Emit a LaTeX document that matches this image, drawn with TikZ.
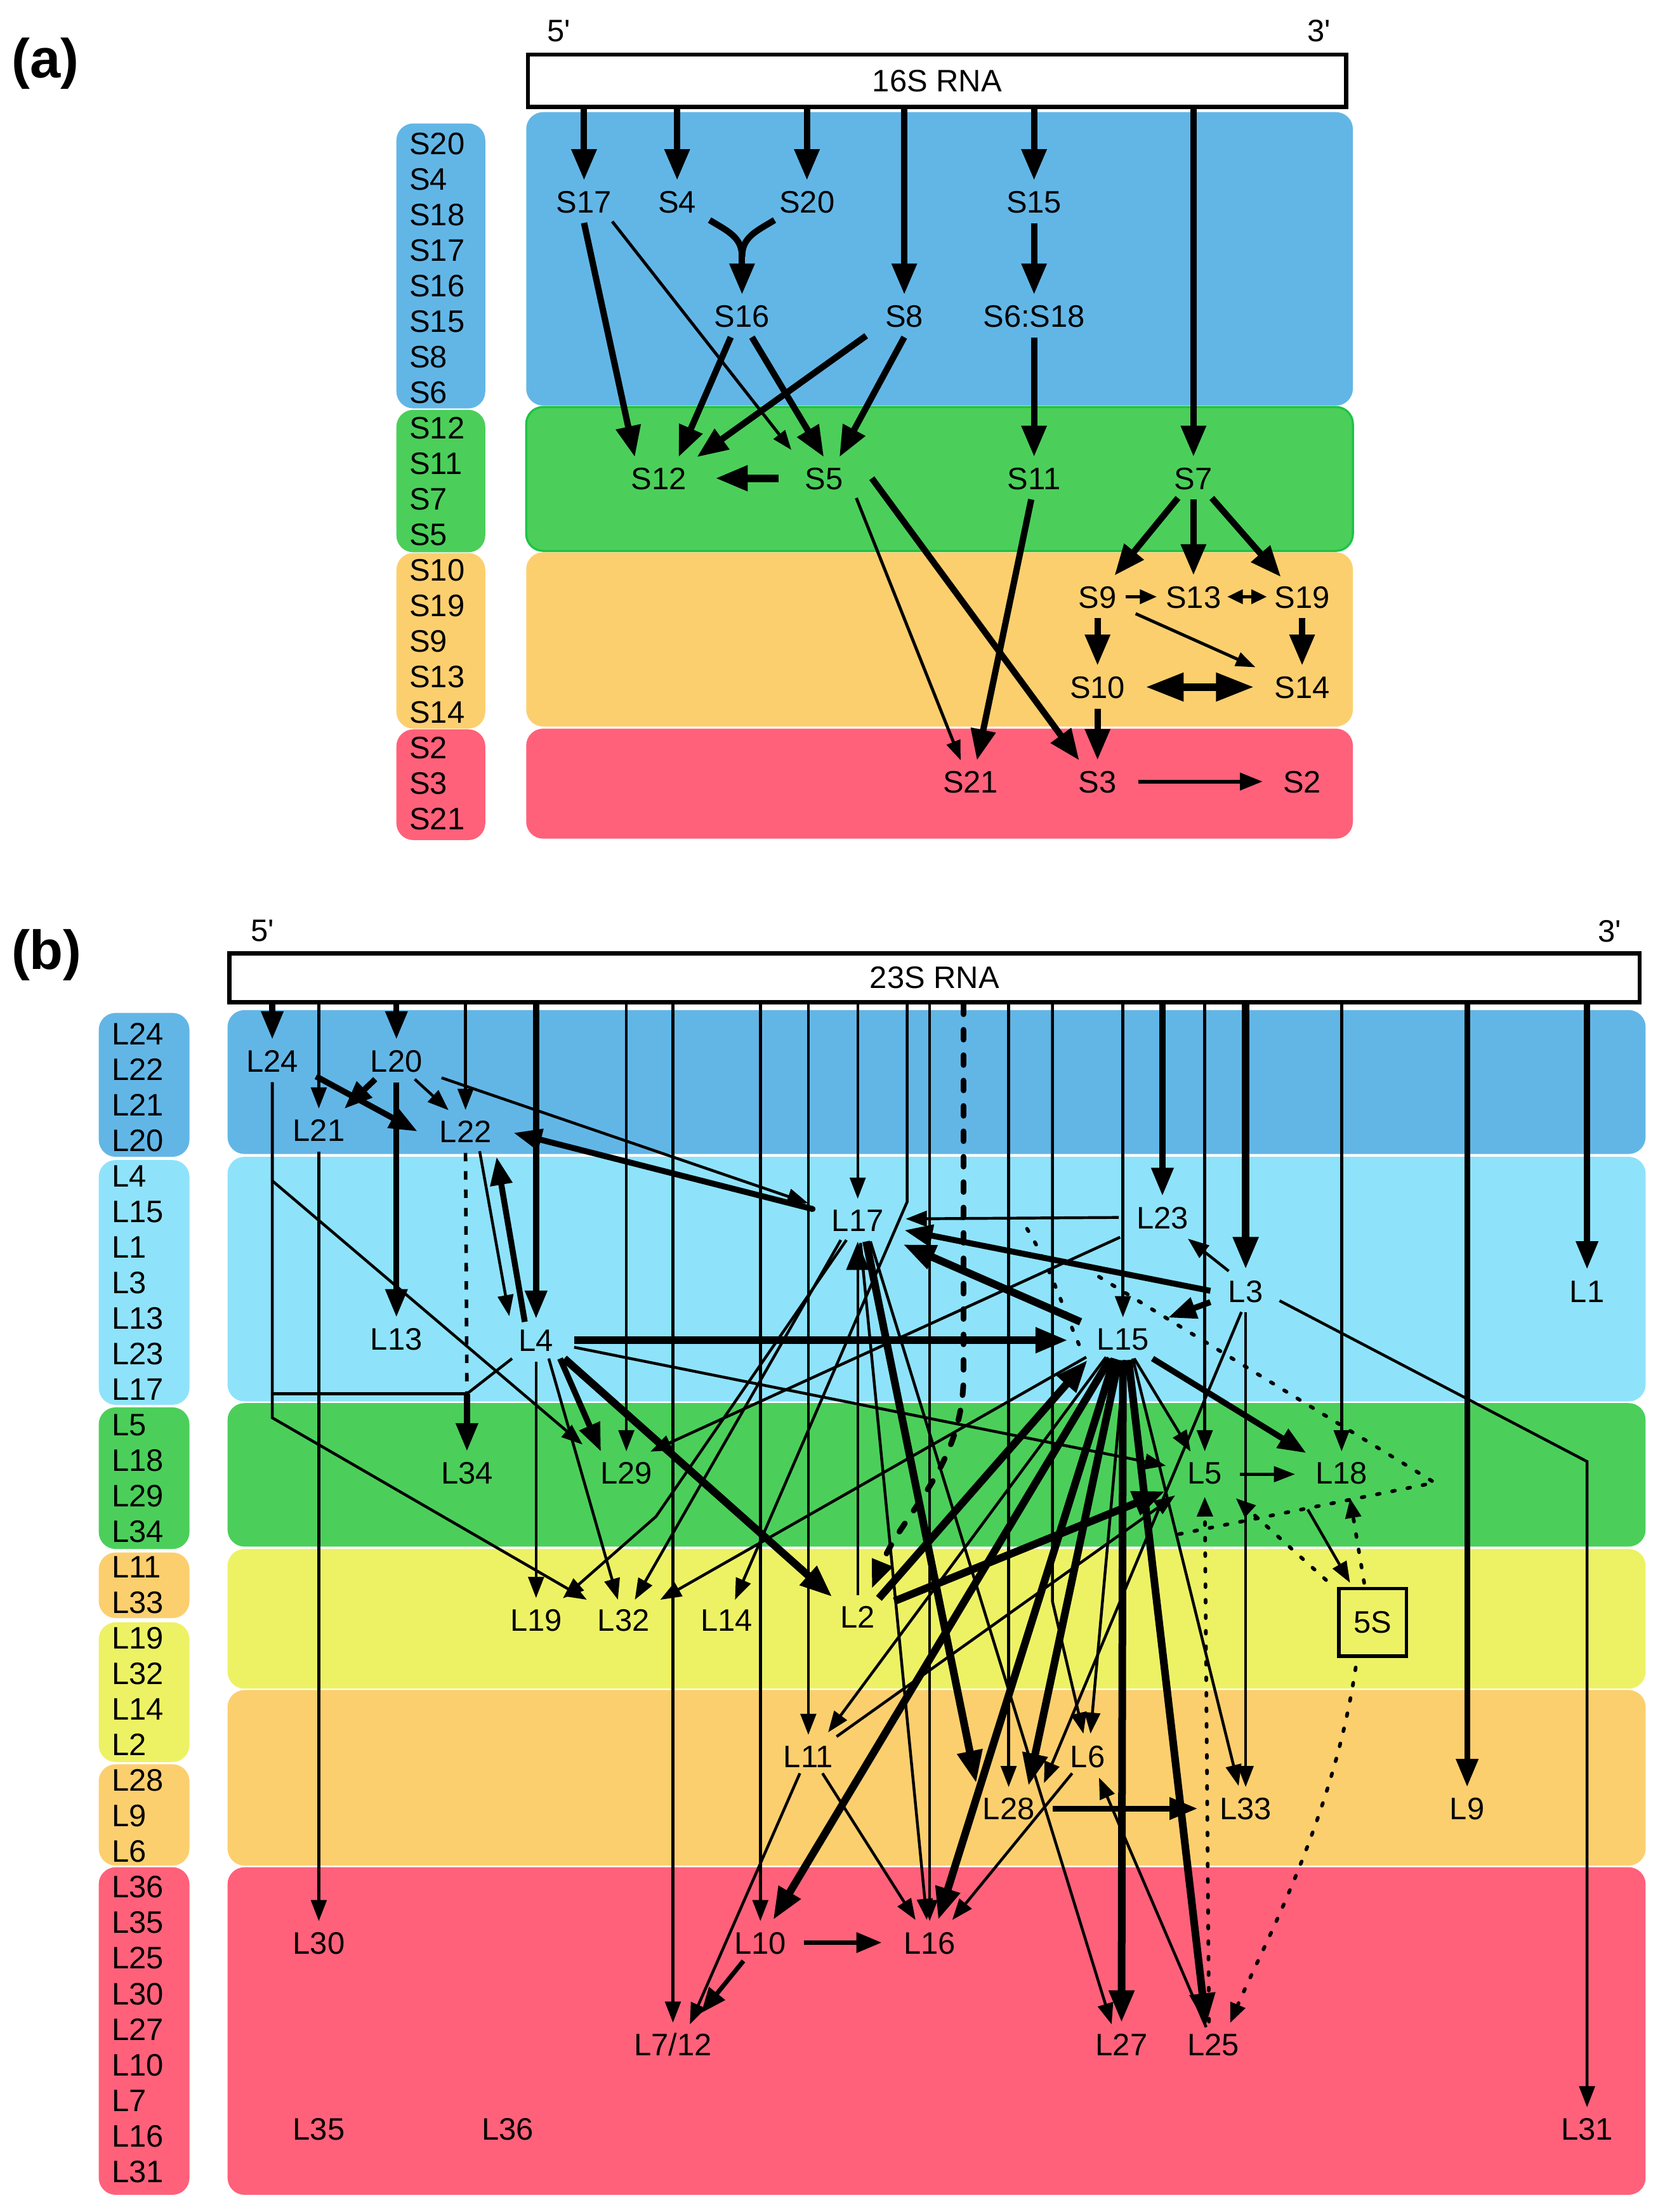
\documentclass[tikz,border=0pt]{standalone}
\usepackage{fontspec}
\setmainfont{Liberation Sans}
\usetikzlibrary{arrows.meta,calc}
\definecolor{cBlue}{RGB}{98,182,230}
\definecolor{cLBlue}{RGB}{142,227,250}
\definecolor{cGreen}{RGB}{75,207,90}
\definecolor{cGreenB}{RGB}{30,195,70}
\definecolor{cOrange}{RGB}{252,207,110}
\definecolor{cYellow}{RGB}{237,242,100}
\definecolor{cRed}{RGB}{255,97,122}
\newcommand\fsz{\fontsize{22}{24}\selectfont}
\newcommand\cnx[5]{\draw[#1] ($(#2)+(#3)$) -- ($(#4)+(#5)$);}
\begin{document}
\begin{tikzpicture}[x=1pt,y=-1pt,
  lab/.style={font=\fsz, inner sep=7pt, text height=16pt, text depth=0pt},
  leg/.style={font=\fsz, inner sep=0pt, anchor=west, text height=16pt, text depth=0pt},
  band/.style={rounded corners=12pt},
  tA/.style={line width=2.2pt, -{Triangle[length=14pt,width=10pt]}},
  kA/.style={line width=4.5pt, -{Triangle[length=22pt,width=17pt]}},
  tB/.style={line width=2pt, -{Triangle[length=15pt,width=11pt]}},
  kB/.style={line width=4.2pt, -{Triangle[length=20pt,width=15pt]}},
  hB/.style={line width=5.4pt, -{Triangle[length=23pt,width=17pt]}},
  mB/.style={line width=3.2pt, -{Triangle[length=18pt,width=14pt]}},
  plain/.style={line width=2pt},
  dotB/.style={line width=2.6pt, line cap=round, dash pattern=on 2pt off 9pt},
  dotA/.style={dotB, -{Triangle[length=14pt,width=11pt]}},
  dashK/.style={line width=4pt, line cap=round, dash pattern=on 7pt off 11pt, -{Triangle[length=20pt,width=15pt]}},
  dashT/.style={line width=2.5pt, dash pattern=on 6pt off 7pt},
]
\useasboundingbox (0,0) rectangle (1185,1568);
\fill[white] (0,0) rectangle (1185,1568);

% ================= (a) =================
\node[font=\fontsize{39}{42}\selectfont\bfseries] (tagA) at (32,45) {(a)};
\fill[cBlue,band] (373,79.5) rectangle (959,287.5);
\filldraw[fill=cGreen,draw=cGreenB,line width=1.5pt,band] (373,288.5) rectangle (959,390.5);
\fill[cOrange,band] (373,391.5) rectangle (959,515);
\fill[cRed,band] (373,516.5) rectangle (959,594.5);
\fill[cBlue,band] (281,87.5) rectangle (344,289.5);
\fill[cGreen,band] (281,290.5) rectangle (344,391.5);
\fill[cOrange,band] (281,392) rectangle (344,516.5);
\fill[cRed,band] (281,517) rectangle (344,595.5);
\foreach \t [count=\i from 0] in {S20,S4,S18,S17,S16,S15,S8,S6,S12,S11,S7,S5,S10,S19,S9,S13,S14,S2,S3,S21}
  \node[leg] (la\i) at (290,101.4+25.2*\i) {\t};

\node[draw, line width=3pt, fill=white, minimum width=580pt, minimum height=37pt, inner sep=0pt, font=\fsz] (rnaA) at (664.3,57.2) {16S RNA};
\node[font=\fsz, inner sep=0pt] (p5a) at (396,22) {5\textquotesingle};
\node[font=\fsz, inner sep=0pt] (p3a) at (935,22) {3\textquotesingle};

\node[lab] (S17) at (414,143) {S17};
\node[lab] (S4) at (480,143) {S4};
\node[lab] (S20) at (572,143) {S20};
\node[lab] (S15) at (733,143) {S15};
\node[lab] (S16) at (526,224) {S16};
\node[lab] (S8) at (641,224) {S8};
\node[lab] (S618) at (733,224) {S6:S18};
\node[lab] (S12) at (467,339) {S12};
\node[lab] (S5) at (584,339) {S5};
\node[lab] (S11) at (733,339) {S11};
\node[lab] (S7) at (846,339) {S7};
\node[lab] (S9) at (778,423) {S9};
\node[lab] (S13) at (846,423) {S13};
\node[lab] (S19) at (923,423) {S19};
\node[lab] (S10) at (778,487) {S10};
\node[lab] (S14) at (923,487) {S14};
\node[lab] (S21) at (688,554) {S21};
\node[lab] (S3) at (778,554) {S3};
\node[lab] (S2) at (923,554) {S2};

\foreach \n in {S17,S4,S20,S15,S8,S7} \draw[kA] (rnaA.south -| \n) -- (\n.north);
\cnx{kA}{S17}{0,15}{S12}{-17,-15}
\cnx{tA}{S17}{20,14}{S5}{-23,-20}
\coordinate (ym) at (526,182);
\draw[line width=4.5pt] ($(S4)+(23,13)$) .. controls (516,164) and (526,168) .. (ym);
\draw[line width=4.5pt] ($(S20)+(-23,13)$) .. controls (536,164) and (526,168) .. (ym);
\draw[kA] ($(ym)+(0,-4)$) -- (S16.north);
\cnx{kA}{S16}{-8,15}{S12}{14,-15}
\cnx{kA}{S16}{7,15}{S5}{0,-15}
\cnx{kA}{S8}{-27,14}{S12}{27,-15}
\cnx{kA}{S8}{0,15}{S5}{11,-15}
\draw[kA] (S15.south) -- (S618.north);
\draw[kA] (S618.south) -- (S11.north);
\draw[line width=5.3pt, -{Triangle[length=23pt,width=17pt]}] ($(S5)+(-32,0)$) -- ($(S12)+(40,0)$);
\cnx{tA}{S5}{23,14}{S21}{-7,-15}
\cnx{kA}{S5}{34,0}{S3}{-13,-15}
\cnx{kA}{S11}{-2,15}{S21}{4.5,-15}
\cnx{kA}{S7}{-11,14}{S9}{12,-15}
\draw[kA] (S7.south) -- (S13.north);
\cnx{kA}{S7}{13,14}{S19}{-15,-14}
\draw[line width=2.2pt, -{Triangle[length=12pt,width=10pt]}] ($(S9)+(20,0)$) -- ($(S13)+(-26,0)$);
\draw[line width=2.2pt, {Triangle[length=11pt,width=10pt]}-{Triangle[length=11pt,width=10pt]}] ($(S13)+(24,0)$) -- ($(S19)+(-25,0)$);
\cnx{tA}{S9}{27,12}{S14}{-33,-14}
\draw[kA] (S9.south) -- (S10.north);
\draw[kA] (S19.south) -- (S14.north);
\draw[line width=5.5pt, {Triangle[length=27pt,width=19pt]}-{Triangle[length=27pt,width=19pt]}] ($(S10)+(34,0)$) -- ($(S14)+(-34,0)$);
\draw[kA] (S10.south) -- (S3.north);
\draw[line width=2.6pt, -{Triangle[length=16pt,width=12pt]}] ($(S3)+(29,0)$) -- ($(S2)+(-28,0)$);

% ================= (b) =================
\node[font=\fontsize{39}{42}\selectfont\bfseries] (tagB) at (33,677) {(b)};
\fill[cBlue,band] (161.3,716) rectangle (1166.5,818);
\fill[cLBlue,band] (161.3,820) rectangle (1166.5,993.4);
\fill[cGreen,band] (161.3,994.6) rectangle (1166.5,1096.3);
\fill[cYellow,band] (161.3,1098) rectangle (1166.5,1197);
\fill[cOrange,band] (161.3,1198) rectangle (1166.5,1322.4);
\fill[cRed,band] (161.3,1323.6) rectangle (1166.5,1555.8);
\fill[cBlue,band] (70,718) rectangle (134.3,820);
\fill[cLBlue,band] (70,822.3) rectangle (134.3,995.8);
\fill[cGreen,band] (70,997.6) rectangle (134.3,1098);
\fill[cOrange,band] (70,1100.5) rectangle (134.3,1147);
\fill[cYellow,band] (70,1150) rectangle (134.3,1249);
\fill[cOrange,band] (70,1250.6) rectangle (134.3,1322.4);
\fill[cRed,band] (70,1323.6) rectangle (134.3,1555.8);
\foreach \t [count=\i from 0] in {L24,L22,L21,L20,L4,L15,L1,L3,L13,L23,L17,L5,L18,L29,L34,L11,L33,L19,L32,L14,L2,L28,L9,L6,L36,L35,L25,L30,L27,L10,L7,L16,L31}
  \node[leg] (lb\i) at (79,732.5+25.2*\i) {\t};

\node[draw, line width=3pt, fill=white, minimum width=999.5pt, minimum height=34.5pt, inner sep=0pt, font=\fsz] (rnaB) at (662.5,693.2) {23S RNA};
\node[font=\fsz, inner sep=0pt] (p5b) at (186,660) {5\textquotesingle};
\node[font=\fsz, inner sep=0pt] (p3b) at (1141,660) {3\textquotesingle};

\node[lab] (L24) at (193,752) {L24};
\node[lab] (L20) at (281,752) {L20};
\node[lab] (L21) at (226,801) {L21};
\node[lab] (L22) at (330,802) {L22};
\node[lab] (L13) at (281,949) {L13};
\node[lab] (L4) at (380,950) {L4};
\node[lab] (L17) at (608,865) {L17};
\node[lab] (L23) at (824,863) {L23};
\node[lab] (L3) at (883,915) {L3};
\node[lab] (L15) at (796,949) {L15};
\node[lab] (L1) at (1125,915) {L1};
\node[lab] (L34) at (331,1044) {L34};
\node[lab] (L29) at (444,1044) {L29};
\node[lab] (L5) at (854,1044) {L5};
\node[lab] (L18) at (951,1044) {L18};
\node[lab] (L19) at (380,1148) {L19};
\node[lab] (L32) at (442,1148) {L32};
\node[lab] (L14) at (515,1148) {L14};
\node[lab] (L2) at (608,1146) {L2};
\node[draw, line width=2.5pt, minimum width=48pt, minimum height=48pt, inner sep=0pt, font=\fsz] (S5S) at (973,1150) {5S};
\node[lab] (L11) at (573,1245) {L11};
\node[lab] (L6) at (771,1245) {L6};
\node[lab] (L28) at (715,1282) {L28};
\node[lab] (L33) at (883,1282) {L33};
\node[lab] (L9) at (1040,1282) {L9};
\node[lab] (L30) at (226,1377) {L30};
\node[lab] (L10) at (539,1377) {L10};
\node[lab] (L16) at (659,1377) {L16};
\node[lab] (L712) at (477,1449) {L7/12};
\node[lab] (L27) at (795,1449) {L27};
\node[lab] (L25) at (860,1449) {L25};
\node[lab] (L35) at (226,1509) {L35};
\node[lab] (L36) at (360,1509) {L36};
\node[lab] (L31) at (1125,1509) {L31};

% from 23S RNA
\foreach \n in {L24,L20,L4,L23,L9,L1} \draw[kB] (rnaB.south -| \n) -- (\n.north);
\draw[hB] (rnaB.south -| L3) -- (L3.north);
\foreach \n in {L21,L22,L29,L712,L10,L11,L17,L16,L28,L15,L5,L18} \draw[tB] (rnaB.south -| \n) -- (\n.north);
\coordinate (k14) at (643,852);
\draw[tB] (rnaB.south -| k14) -- (k14) -- ($(L14)+(6,-14)$);
\coordinate (k6) at (746,1135);
\draw[tB] (rnaB.south -| k6) -- (k6) -- ($(L6)+(-3,-16)$);
\coordinate (k2) at (683,975);
\draw[dashK] (rnaB.south -| k2) -- (k2) .. controls (683,1040) and (640,1072) .. ($(L2)+(10,-20)$);

% upper part
\cnx{kB}{L24}{31,11}{L22}{-34,0}
\cnx{kB}{L20}{-15,13}{L21}{18,-15}
\cnx{tB}{L20}{13,13}{L22}{-12,-15}
\draw[kB] (L20.south) -- (L13.north);
\cnx{tB}{L20}{32,12}{L17}{-35,-12}
\draw[kB, line cap=round] ($(L17)+(-32,-8)$) -- ($(L22)+(34,1)$);
\draw[tB] (L21.south) -- (L30.north);
\coordinate (k29) at (193,837);
\draw[tB] (L24.south) -- (k29) -- ($(L29)+(-31,-20)$);
\coordinate (k32) at (193,1005);
\draw[tB] (L24.south) -- (k32) -- ($(L32)+(-26,-14)$);
\coordinate (k34) at (193,988);
\coordinate (j34) at (331,988);
\draw[plain] (k34) -- (j34);
\draw[dashT] (L22.south) -- (j34);
\draw[plain] ($(L4)+(-17,13)$) -- (j34);
\draw[kB] (j34) -- (L34.north);
\cnx{tB}{L22}{10,14}{L4}{-19,-17}
\cnx{kB}{L4}{-8,-13}{L22}{22,18}
\cnx{hB}{L4}{27,0}{L15}{-39,1}
\cnx{tB}{L4}{27,5}{L5}{-27.5,-5}
\draw[tB] (L4.south) -- (L19.north);
\cnx{tB}{L4}{9,13}{L32}{-4,-14}
\cnx{kB}{L4}{17,13}{L29}{-18,-15}
\cnx{hB}{L4}{20,13}{L2}{-18,-14}
\cnx{tB}{L23}{-31,0}{L17}{34,-1}
\cnx{kB}{L3}{-25,0}{L17}{33,7}
\cnx{hB}{L15}{-30,-12}{L17}{32,17}
\cnx{kB}{L3}{-25,8}{L15}{32,-15}
\cnx{tB}{L3}{-12,-14}{L23}{18,15}
\coordinate (k31) at (1125,1036);
\draw[tB] ($(L3)+(24,7)$) -- (k31) -- (L31.north);
\draw[tB] (L3.south) -- (L33.north);
\cnx{tB}{L3}{-3,15}{L28}{25,-18}
\cnx{tB}{L23}{-30,14}{L29}{17,-15}
\coordinate (k19) at (465,1075);
\draw[tB] ($(L17)+(-8,14)$) -- (k19) -- ($(L19)+(19,-15)$);
\cnx{tB}{L17}{-12,14}{L32}{8,-14}
\cnx{hB}{L17}{6,15}{L28}{-23,-18}
\draw[line width=2pt, -{Triangle[length=20pt,width=16pt]}] (L2.north) -- (L17.south);
\cnx{tB}{L17}{2,16}{L16}{-2,-16}
\cnx{tB}{L17}{9,15}{L27}{-7,-14}
\cnx{hB}{L2}{15,-13}{L15}{-25,15}
\cnx{hB}{L2}{26,-11}{L5}{-28,13}
\cnx{tB}{L11}{20,-14}{L5}{-21,16}
% L15 fan
\cnx{tB}{L15}{-12,13}{L11}{14,-17}
\cnx{tB}{L15}{-26,13}{L32}{26,-14}
\cnx{hB}{L15}{-9,14}{L10}{9,-16}
\cnx{hB}{L15}{-6,14}{L16}{6,-16}
\cnx{hB}{L15}{-3,15}{L28}{14,-16}
\cnx{tB}{L15}{1,15}{L6}{2,-16}
\draw[hB] (L15.south) -- (L27.north);
\cnx{hB}{L15}{4,15}{L25}{-5,-13}
\cnx{tB}{L15}{7,14}{L33}{-5,-16}
\cnx{tB}{L15}{8,14}{L5}{-10,-15}
\cnx{kB}{L15}{21,14}{L18}{-25,-14}
\cnx{tB}{L5}{25,1}{L18}{-33,1}
% 5S
\cnx{tB}{L18}{-24,26}{S5S}{-16,-28}
\cnx{dotA}{S5S}{-6,-28}{L18}{6,18}
\cnx{dotA}{S5S}{-33,-30}{L5}{22,18}
\draw[dotA] ($(S5S)+(-12,32)$) .. controls (945,1290) and (895,1380) .. ($(L25)+(12,-15)$);
\cnx{dotA}{L25}{-3,-16}{L5}{0,17}
\coordinate (d1) at (728,871);
\coordinate (d2) at (768,960);
\draw[dotB] (d1) .. controls (746,900) and (756,935) .. (d2);
\coordinate (d3) at (779,905);
\coordinate (d4) at (1017,1051);
\coordinate (d5) at (828,1089);
\draw[dotB] (d3) -- (d4) -- (d5);
% lower part
\cnx{tB}{L25}{-5,-12}{L6}{8,15}
\cnx{kB}{L28}{31,0}{L33}{-34,0}
\cnx{tB}{L6}{-11,12}{L16}{16,-16}
\cnx{tB}{L11}{10,12}{L16}{-10,-16}
\cnx{tB}{L11}{-6,12}{L712}{12,-14}
\cnx{mB}{L10}{31,0}{L16}{-34,0}
\cnx{mB}{L10}{-12,13}{L712}{20,-22}
\end{tikzpicture}
\end{document}
